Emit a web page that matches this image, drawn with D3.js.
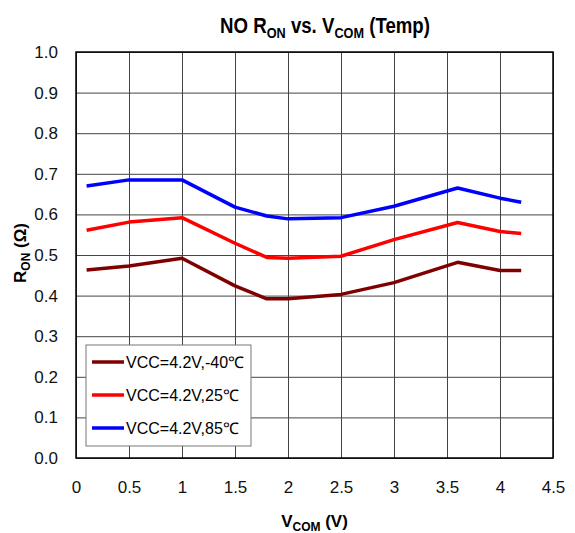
<!DOCTYPE html>
<html>
<head>
<meta charset="utf-8">
<script src="https://cdn.jsdelivr.net/npm/d3@7"></script>
<style>
  body { margin: 0; background: #fff; }
  text { font-family: "Liberation Sans", Arial, sans-serif; }
</style>
</head>
<body>
<div id="chart"></div>
<script>
// values
var vcom = [0.1, 0.5, 1, 1.5, 1.8, 2, 2.5, 3, 3.6, 4, 4.2];
var ronCold = [0.463, 0.473, 0.492, 0.424, 0.392, 0.392, 0.403, 0.432, 0.482, 0.462, 0.462];
var ronRoom = [0.561, 0.581, 0.592, 0.529, 0.494, 0.492, 0.497, 0.538, 0.580, 0.558, 0.553];
var ronHot = [0.670, 0.685, 0.685, 0.618, 0.596, 0.589, 0.592, 0.620, 0.665, 0.640, 0.630];
var seriesNames = ['VCC=4.2V,-40\u2103', 'VCC=4.2V,25\u2103', 'VCC=4.2V,85\u2103'];
var seriesColors = ['#800000', '#ff0000', '#0000ff'];
var xTicks = [0, 0.5, 1, 1.5, 2, 2.5, 3, 3.5, 4, 4.5];
var yTicks = [0, 0.1, 0.2, 0.3, 0.4, 0.5, 0.6, 0.7, 0.8, 0.9, 1.0];

var margin = { top: 52, left: 76, right: 22, bottom: 75 };
var width = 575, height = 533;

var svg = d3.select('#chart')
  .append('svg')
  .attr('width', width)
  .attr('height', height)
  .append('g')
  .attr('transform', 'translate(' + margin.left + ',' + margin.top + ')');

width = width - margin.left - margin.right;
height = height - margin.top - margin.bottom;

var x = d3.scaleLinear().domain([0, 4.5]).range([0, width]);
var y = d3.scaleLinear().domain([0, 1]).range([height, 0]);

// gridlines
svg.append('g')
  .attr('class', 'grid')
  .attr('transform', 'translate(0,' + height + ')')
  .call(d3.axisBottom(x).tickValues(xTicks).tickSize(-height).tickFormat(''))
  .call(function(g) { g.select('.domain').remove(); })
  .selectAll('line').attr('stroke', '#444').attr('stroke-width', 1);

svg.append('g')
  .attr('class', 'grid')
  .call(d3.axisLeft(y).tickValues(yTicks).tickSize(-width).tickFormat(''))
  .call(function(g) { g.select('.domain').remove(); })
  .selectAll('line').attr('stroke', '#444').attr('stroke-width', 1);

// frame
svg.append('rect')
  .attr('width', width)
  .attr('height', height)
  .attr('fill', 'none')
  .attr('stroke', '#000')
  .attr('stroke-width', 1.5);

// tick labels
var xAxis = svg.append('g')
  .attr('transform', 'translate(0,' + height + ')')
  .call(d3.axisBottom(x).tickValues(xTicks).tickSize(0).tickPadding(23).tickFormat(d3.format('')));
xAxis.select('.domain').remove();
xAxis.selectAll('text').style('font-size', '17px').attr('fill', '#111');

var yAxis = svg.append('g')
  .call(d3.axisLeft(y).tickValues(yTicks).tickSize(0).tickPadding(18).tickFormat(d3.format('.1f')));
yAxis.select('.domain').remove();
yAxis.selectAll('text').style('font-size', '17px').attr('fill', '#111');

// lines
var series = [ronCold, ronRoom, ronHot];
var line = d3.line()
  .x(function(d, i) { return x(vcom[i]); })
  .y(function(d) { return y(d); });

svg.selectAll('.line')
  .data(series)
  .enter()
  .append('path')
  .attr('class', 'line')
  .attr('fill', 'none')
  .attr('stroke', function(d, i) { return seriesColors[i]; })
  .attr('stroke-width', 3.5)
  .attr('stroke-linejoin', 'round')
  .attr('d', line);

// legend
var legend = svg.append('g')
  .attr('transform', 'translate(' + (86 - margin.left) + ',' + (345 - margin.top) + ')');

legend.append('rect')
  .attr('width', 165)
  .attr('height', 101)
  .attr('fill', '#fff')
  .attr('stroke', '#777')
  .attr('stroke-width', 1);

var rows = legend.selectAll('.row')
  .data(seriesNames)
  .enter()
  .append('g')
  .attr('transform', function(d, i) { return 'translate(0,' + (17 + i * 33) + ')'; });

rows.append('line')
  .attr('x1', 6).attr('x2', 38)
  .attr('stroke', function(d, i) { return seriesColors[i]; })
  .attr('stroke-width', 3.5);

rows.append('text')
  .attr('x', 40)
  .attr('dy', '0.35em')
  .style('font-size', '16px')
  .text(function(d) { return d; });

// title (condensed like the original)
var titleG = svg.append('g')
  .attr('transform', 'translate(' + (325 - margin.left) + ',' + (33 - margin.top) + ')');
var title = titleG.append('text')
  .attr('text-anchor', 'middle')
  .style('font-size', '22px')
  .style('font-weight', 'bold');
title.append('tspan').text('NO R');
title.append('tspan').attr('dy', 5).style('font-size', '15px').text('ON');
title.append('tspan').attr('dy', -5).text(' vs. V');
title.append('tspan').attr('dy', 5).style('font-size', '15px').text('COM');
title.append('tspan').attr('dy', -5).text(' (Temp)');
var tw = title.node().getComputedTextLength();
title.attr('transform', 'scale(' + (210 / tw) + ',1)');

// x label
var xl = svg.append('text')
  .attr('x', width / 2)
  .attr('y', height + 69)
  .attr('text-anchor', 'middle')
  .style('font-size', '17px')
  .style('font-weight', 'bold');
xl.append('tspan').text('V');
xl.append('tspan').attr('dy', 4).style('font-size', '12px').text('COM');
xl.append('tspan').attr('dy', -4).text(' (V)');

// y label
var yl = svg.append('text')
  .attr('transform', 'rotate(-90)')
  .attr('x', -(height / 2) + 2)
  .attr('y', -50)
  .attr('text-anchor', 'middle')
  .style('font-size', '17px')
  .style('font-weight', 'bold');
yl.append('tspan').text('R');
yl.append('tspan').attr('dy', 4).style('font-size', '12px').text('ON');
yl.append('tspan').attr('dy', -4).text(' (\u03A9)');
</script>
</body>
</html>
